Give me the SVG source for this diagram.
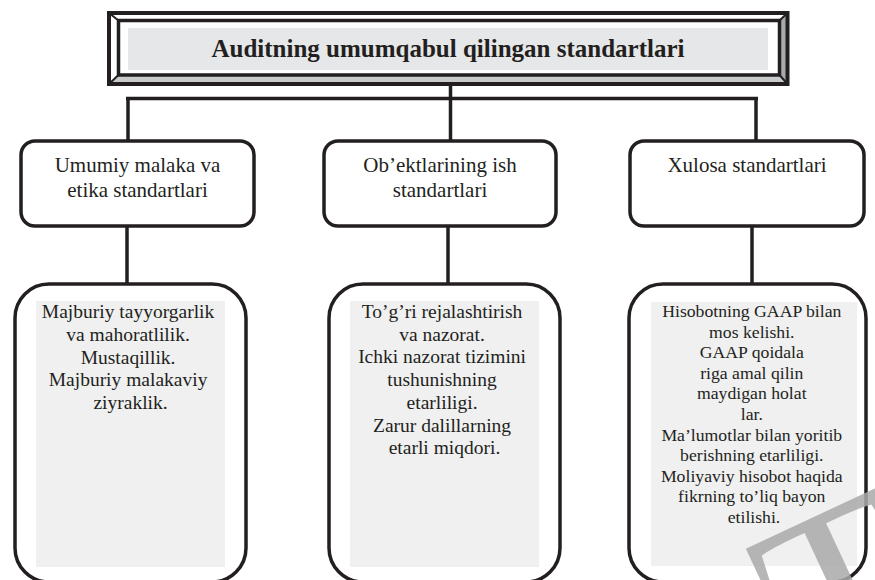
<svg xmlns="http://www.w3.org/2000/svg" width="875" height="580" viewBox="0 0 875 580">
  <style>
    .ink { stroke: #231f20; fill: none; }
    .box { fill: #ffffff; stroke: #231f20; stroke-width: 3.5; }
    .pane { fill: #f0f0f0; }
    .wire { stroke: #231f20; stroke-width: 3.5; fill: none; }
    text { font-family: "Liberation Serif", "Times New Roman", serif; fill: #231f20; text-anchor: middle; }
    .title { font-weight: bold; font-size: 25px; }
    .head { font-size: 21px; }
    .body { font-size: 19.5px; }
    .small { font-size: 17.7px; }
    text.mark { text-anchor: start; font-size: 250px; fill: #aaaaaa; opacity: 0.85; }
  </style>

  <rect width="875" height="580" fill="#ffffff"/>

  <!-- connectors -->
  <g id="connectors" class="wire">
    <line x1="450.5" y1="85" x2="450.5" y2="141"/>
    <line x1="126" y1="98.5" x2="758" y2="98.5"/>
    <line x1="128" y1="97" x2="128" y2="141"/>
    <line x1="756" y1="97" x2="756" y2="141"/>
    <line x1="127" y1="226" x2="127" y2="284"/>
    <line x1="448" y1="226" x2="448" y2="284"/>
    <line x1="752" y1="226" x2="752" y2="284"/>
  </g>

  <!-- beveled title frame -->
  <g id="title">
    <polygon points="109,13 787.5,13 779.5,20.5 118.5,20.5" fill="#ffffff"/>
    <polygon points="109,13 118.5,20.5 118.5,75 109,84" fill="#ffffff"/>
    <polygon points="109,84 118.5,75 779.5,75 787.5,84" fill="#c9cacc"/>
    <polygon points="787.5,13 787.5,84 779.5,75 779.5,20.5" fill="#a7a9ac"/>
    <rect x="109" y="13" width="678.5" height="71" class="ink" stroke-width="4"/>
    <rect x="118.5" y="20.5" width="661" height="54.5" class="ink" stroke-width="3.5"/>
    <g class="ink" stroke-width="2">
      <line x1="109" y1="13" x2="118.5" y2="20.5"/>
      <line x1="787.5" y1="13" x2="779.5" y2="20.5"/>
      <line x1="109" y1="84" x2="118.5" y2="75"/>
      <line x1="787.5" y1="84" x2="779.5" y2="75"/>
    </g>
    <rect x="128" y="28" width="640" height="42" fill="#e6e7e8"/>
    <text x="448" y="56.5" class="title">Auditning umumqabul qilingan standartlari</text>
  </g>

  <!-- category boxes -->
  <g id="general">
    <rect x="21" y="141" width="233" height="85" rx="14" class="box"/>
    <text x="137.5" y="172" class="head">Umumiy malaka va</text>
    <text x="137.5" y="197" class="head">etika standartlari</text>
  </g>
  <g id="fieldwork">
    <rect x="324" y="141" width="232" height="85" rx="14" class="box"/>
    <text x="440" y="172" class="head">Ob’ektlarining ish</text>
    <text x="440" y="197" class="head">standartlari</text>
  </g>
  <g id="reporting">
    <rect x="630" y="141" width="234" height="85" rx="14" class="box"/>
    <text x="747" y="172" class="head">Xulosa standartlari</text>
  </g>

  <!-- detail boxes -->
  <g id="general-detail">
    <rect x="15" y="284" width="231" height="298" rx="34" class="box"/>
    <rect x="36" y="301" width="189" height="266" class="pane"/>
    <text class="body">
      <tspan x="130.5" y="318">Majburiy tayyorgarlik</tspan>
      <tspan x="130.5" y="340.75">va mahoratlilik.</tspan>
      <tspan x="130.5" y="363.5">Mustaqillik.</tspan>
      <tspan x="130.5" y="386.25">Majburiy malakaviy</tspan>
      <tspan x="130.5" y="409">ziyraklik.</tspan>
    </text>
  </g>
  <g id="fieldwork-detail">
    <rect x="329" y="284" width="231" height="298" rx="34" class="box"/>
    <rect x="350" y="301" width="189" height="266" class="pane"/>
    <text class="body">
      <tspan x="444.5" y="318">To’g’ri rejalashtirish</tspan>
      <tspan x="444.5" y="340.7">va nazorat.</tspan>
      <tspan x="444.5" y="363.4">Ichki nazorat tizimini</tspan>
      <tspan x="444.5" y="386.1">tushunishning</tspan>
      <tspan x="444.5" y="408.8">etarliligi.</tspan>
      <tspan x="444.5" y="431.5">Zarur dalillarning</tspan>
      <tspan x="444.5" y="454.2">etarli miqdori.</tspan>
    </text>
  </g>
  <g id="reporting-detail">
    <rect x="629" y="284" width="237" height="298" rx="34" class="box"/>
    <rect x="651" y="302" width="206" height="264" class="pane"/>
    <text class="small">
      <tspan x="754" y="317">Hisobotning GAAP bilan</tspan>
      <tspan x="754" y="337.6">mos kelishi.</tspan>
      <tspan x="754" y="358.2">GAAP qoidala</tspan>
      <tspan x="754" y="378.8">riga amal qilin</tspan>
      <tspan x="754" y="399.4">maydigan holat</tspan>
      <tspan x="754" y="420">lar.</tspan>
      <tspan x="754" y="440.6">Ma’lumotlar bilan yoritib</tspan>
      <tspan x="754" y="461.2">berishning etarliligi.</tspan>
      <tspan x="754" y="481.8">Moliyaviy hisobot haqida</tspan>
      <tspan x="754" y="502.4">fikrning to’liq bayon</tspan>
      <tspan x="754" y="523">etilishi.</tspan>
    </text>
  </g>

  <!-- faint watermark letter in the lower right corner -->
  <text class="mark" transform="translate(811,699) rotate(-25)" x="0" y="0">T</text>
</svg>
